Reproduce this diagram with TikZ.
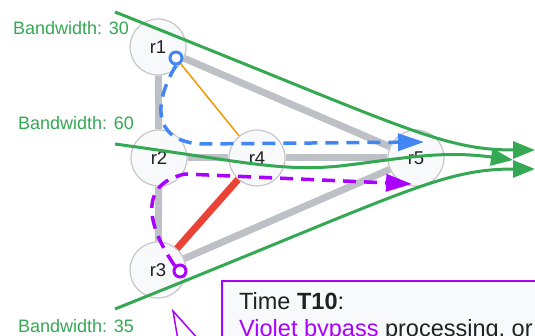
\documentclass[tikz,border=0pt]{standalone}
\usepackage{fontspec}
\setmainfont{Liberation Sans}
\usetikzlibrary{arrows.meta}
\definecolor{gedge}{HTML}{BDC1C6}
\definecolor{nodefill}{HTML}{F8F9FA}
\definecolor{nodeline}{HTML}{C4C6C9}
\definecolor{gline}{HTML}{34A853}
\definecolor{bline}{HTML}{4285F4}
\definecolor{vline}{HTML}{AA00FF}
\definecolor{rline}{HTML}{EA4335}
\definecolor{oline}{HTML}{F29900}
\definecolor{textc}{HTML}{202124}
\tikzset{
  router/.style={circle, minimum size=56pt, inner sep=0pt, fill=nodefill, draw=nodeline, line width=1.2pt, font=\fontsize{18.5}{20}\selectfont, text=textc},
  link/.style={draw=gedge, line width=7pt},
  bwlabel/.style={anchor=base east, text=gline, font=\fontsize{18}{20}\selectfont, inner sep=0pt},
  flow/.style={draw=gline, line width=3pt, -{Triangle[length=22pt,width=17pt]}},
  marker/.style={circle, minimum size=12pt, inner sep=0pt, fill=white, line width=3pt},
  bypass/.style={line width=3.5pt, dash pattern=on 13pt off 8pt, -{Triangle[length=26pt,width=17pt]}},
  callout/.style={draw=vline, fill=nodefill, line width=2pt, inner sep=0pt}
}
\begin{document}
\begin{tikzpicture}[x=1pt,y=-1pt]
\useasboundingbox (0,0) rectangle (535,336);
% routers
\node[router] (r1) at (158,47) {r1};
\node[router] (r2) at (159,158) {r2};
\node[router] (r3) at (158,270) {r3};
\node[router] (r4) at (257,158) {r4};
\node[router] (r5) at (416,158) {r5};
% links
\draw[link] (r1) -- (r2);
\draw[link] (r2) -- (r3);
\draw[link] (r2) -- (r4);
\draw[link] (r4) -- (r5);
\draw[link] (r1) -- (r5);
\draw[link] (r3) -- (r5);
\draw[draw=rline, line width=7pt] (r3) -- (r4);
% markers
\node[marker, draw=bline] (bm) at (176,58) {};
\node[marker, draw=vline] (vm) at (180,271) {};
\draw[draw=oline, line width=1.5pt] (bm) -- (r4);
% bypass paths
\coordinate (bt) at (424,142);
\coordinate (vt) at (412,184);
\draw[bypass, draw=bline] (bm.south) .. controls (155,100) and (150,140) .. (200,144) -- (bt);
\draw[bypass, draw=vline] (vm.north west) .. controls (150,230) and (135,185) .. (185,174) -- (vt);
% bandwidth flows
\coordinate (f1s) at (115,12);
\coordinate (f1e) at (535,150);
\coordinate (f2s) at (115,144);
\coordinate (f2m) at (340,166);
\coordinate (f2e) at (513,160);
\coordinate (f3s) at (115,309);
\coordinate (f3e) at (535,169);
\draw[flow] (f1s) .. controls (400,125) and (440,150) .. (f1e);
\draw[flow] (f2s) .. controls (240,161) and (280,172) .. (f2m) .. controls (400,159) and (440,150) .. (f2e);
\draw[flow] (f3s) .. controls (400,195) and (440,169) .. (f3e);
\node[bwlabel] (l1) at (129,35) {Bandwidth: 30};
\node[bwlabel] (l2) at (134,130) {Bandwidth: 60};
\node[bwlabel] (l3) at (134,333) {Bandwidth: 35};
% callout
\node[callout, anchor=north west, minimum width=340pt, minimum height=90pt] (box) at (221,280) {};
\node[anchor=base west, inner sep=0pt, align=left, text=textc, font=\fontsize{23.5}{27}\selectfont] (txt) at (239,336) {Time \textbf{T10}:\\{\color{vline}Violet bypass} processing, or};
\coordinate (ptip) at (173,311);
\coordinate (pa) at (178,340);
\coordinate (pb) at (199,340);
\draw[draw=vline, line width=1.5pt] (pa) -- (ptip) -- (pb);
\end{tikzpicture}
\end{document}
